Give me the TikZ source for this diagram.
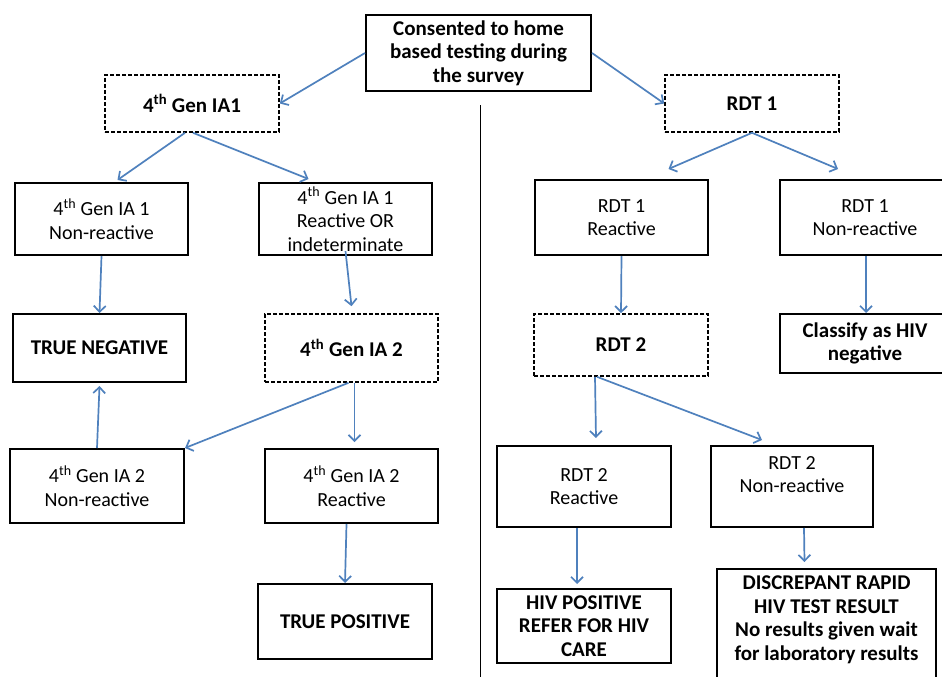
\documentclass[tikz,border=0pt]{standalone}
\usepackage{fontspec}
\setmainfont{Carlito}
\usetikzlibrary{arrows.meta}

\definecolor{flowblue}{RGB}{79,129,189}
\newcommand{\fourthgen}{4\textsuperscript{th} Gen}

\tikzset{
    box/.style={draw, line width=2pt, align=center, inner sep=1pt,
        font=\fontsize{20}{23.5}\selectfont},
    boldbox/.style={box, font=\fontsize{21}{23.5}\selectfont\bfseries},
    dashbox/.style={boldbox, line width=1.6pt, dash pattern=on 4pt off 2pt},
    flow/.style={draw=flowblue, line width=1.7pt,
        -{Straight Barb[length=6pt,width=12pt]}},
    divider/.style={draw, line width=1.8pt},
}

\begin{document}
\begin{tikzpicture}[x=1pt, y=-1pt]
    \clip (0,0) rectangle (942,677);
    \fill[white] (0,0) rectangle (942,677);

    % top of the chart
    \node[boldbox, minimum width=225pt, minimum height=76pt] (consent) at (478.5,53)
        {Consented to home\\based testing during\\the survey};
    \node[dashbox, minimum width=174pt, minimum height=57pt] (ia1) at (192,103.5) {\fourthgen{} IA1};
    \node[dashbox, minimum width=174pt, minimum height=57pt] (rdt1) at (752,103.5) {RDT 1};
    \coordinate (divtop) at (480.5,105);
    \coordinate (divbot) at (480.5,677);
    \draw[divider] (divtop) -- (divbot);

    % laboratory side
    \node[box, minimum width=173pt, minimum height=72pt] (ia1nr) at (101.5,219)
        {\fourthgen{} IA 1\\Non-reactive};
    \node[box, minimum width=173pt, minimum height=72pt] (ia1r) at (345.5,219)
        {\fourthgen{} IA 1\\Reactive OR\\indeterminate};
    \node[boldbox, minimum width=173pt, minimum height=68pt] (tneg) at (99.5,348) {TRUE NEGATIVE};
    \node[dashbox, minimum width=173pt, minimum height=68pt] (ia2) at (351.5,348) {\fourthgen{} IA 2};
    \node[box, minimum width=174pt, minimum height=74pt] (ia2nr) at (97,486)
        {\fourthgen{} IA 2\\Non-reactive};
    \node[box, minimum width=173pt, minimum height=74pt] (ia2r) at (351.5,486)
        {\fourthgen{} IA 2\\Reactive};
    \node[boldbox, minimum width=174pt, minimum height=75pt] (tpos) at (345,621.5) {TRUE POSITIVE};

    % rapid test side
    \node[box, minimum width=173pt, minimum height=75pt] (rdt1r) at (621.5,217.5)
        {RDT 1\\Reactive};
    \node[box, minimum width=170pt, minimum height=75pt] (rdt1nr) at (865,217.5)
        {RDT 1\\Non-reactive};
    \node[dashbox, minimum width=174pt, minimum height=62pt] (rdt2) at (621,345) {RDT 2};
    \node[boldbox, minimum width=170pt, minimum height=59pt] (classify) at (865,343.5)
        {Classify as HIV\\negative};
    \node[box, minimum width=174pt, minimum height=81pt] (rdt2r) at (584,486.5)
        {RDT 2\\Reactive};
    \node[box, minimum width=162pt, minimum height=81pt] (rdt2nr) at (792,486.5)
        {RDT 2\\Non-reactive\\\mbox{}};
    \node[boldbox, minimum width=174pt, minimum height=74pt] (hivpos) at (584,626)
        {HIV POSITIVE\\REFER FOR HIV\\CARE};
    \node[boldbox, minimum width=219pt, minimum height=122pt, anchor=north] (disc) at (826.5,568)
        {DISCREPANT RAPID\\HIV TEST RESULT\\No results given wait\\for laboratory results\\\mbox{}};

    % arrows
    \draw[flow] (consent.west) -- (ia1.east);
    \draw[flow] (consent.east) -- (rdt1.west);
    \draw[flow] ([xshift=-7pt]ia1.south) -- ([shift={(16,-2)}]ia1nr.north);
    \draw[flow] ([xshift=1pt]ia1.south) -- ([shift={(-37,-3)}]ia1r.north);
    \draw[flow] (ia1nr.south) -- (tneg.north);
    \draw[flow] ([yshift=5pt]ia1r.south) -- ([yshift=7pt]ia2.north);
    \draw[flow] ([xshift=-3pt]ia2.south) -- (ia2nr.north east);
    \draw[flow] ([xshift=3pt]ia2.south) -- ([shift={(3,-6)}]ia2r.north);
    \draw[flow] (ia2nr.north) -- ([yshift=-3pt]tneg.south);
    \draw[flow] ([xshift=-5pt]ia2r.south) -- (tpos.north);
    \draw[flow] (rdt1.south) -- ([shift={(47,-10)}]rdt1r.north);
    \draw[flow] (rdt1.south) -- ([shift={(-27,-10)}]rdt1nr.north);
    \draw[flow] (rdt1r.south) -- (rdt2.north);
    \draw[flow] ([xshift=1pt]rdt1nr.south) -- ([xshift=1pt]classify.north);
    \draw[flow] ([xshift=-26pt]rdt2.south) -- ([shift={(12,-7)}]rdt2r.north);
    \draw[flow] ([xshift=-24pt]rdt2.south) -- ([shift={(-30,-5)}]rdt2nr.north);
    \draw[flow] ([xshift=-7pt]rdt2r.south) -- ([shift={(-7,-4)}]hivpos.north);
    \draw[flow] ([xshift=12pt]rdt2nr.south) -- ([shift={(-22,-6)}]disc.north);
\end{tikzpicture}
\end{document}
